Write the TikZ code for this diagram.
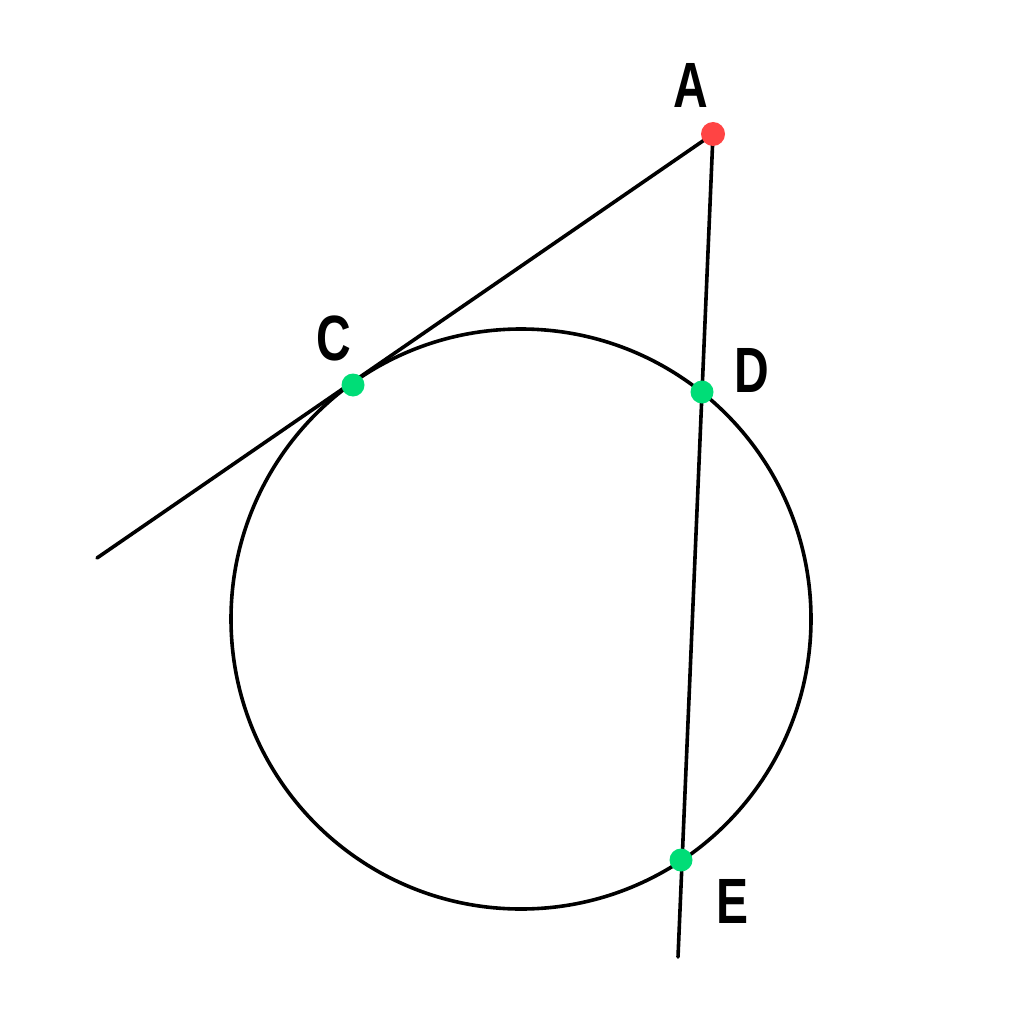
\documentclass[tikz,border=0pt]{standalone}
\usepackage{fontspec}
\setmainfont{Liberation Sans}
\begin{document}
\begin{tikzpicture}[x=1pt,y=-1pt,
  line/.style={line width=3.6pt,black},
  lbl/.style={font=\fontsize{64}{64}\selectfont\bfseries,inner sep=0pt}]
\useasboundingbox (0,0) rectangle (1024,1024);
\definecolor{gdot}{HTML}{00DD77}
\definecolor{rdot}{HTML}{FF4444}
\tikzset{greendot/.style={circle,fill=gdot,minimum size=23pt,inner sep=0pt},
  reddot/.style={circle,fill=rdot,minimum size=24pt,inner sep=0pt}}
\coordinate (O) at (521,619);
\coordinate (A) at (713,134);
\coordinate (P) at (97,558);
\coordinate (Q) at (678,957);
\coordinate (C) at (353,385);
\coordinate (D) at (702,392);
\coordinate (E) at (681,860);
\draw[line] (O) circle (290);
\draw[line,line cap=round] (A) -- (P);
\draw[line,line cap=round] (A) -- (Q);
\node[greendot] (Cd) at (C) {};
\node[greendot] (Dd) at (D) {};
\node[greendot] (Ed) at (E) {};
\node[reddot] (Ad) at (A) {};
\node[lbl] (LA) at (691,85) {\scalebox{0.75}[1]{A}};
\node[lbl] (LC) at (334,338) {\scalebox{0.75}[1]{C}};
\node[lbl] (LD) at (752,370) {\scalebox{0.75}[1]{D}};
\node[lbl] (LE) at (732,901) {\scalebox{0.75}[1]{E}};
\end{tikzpicture}
\end{document}
